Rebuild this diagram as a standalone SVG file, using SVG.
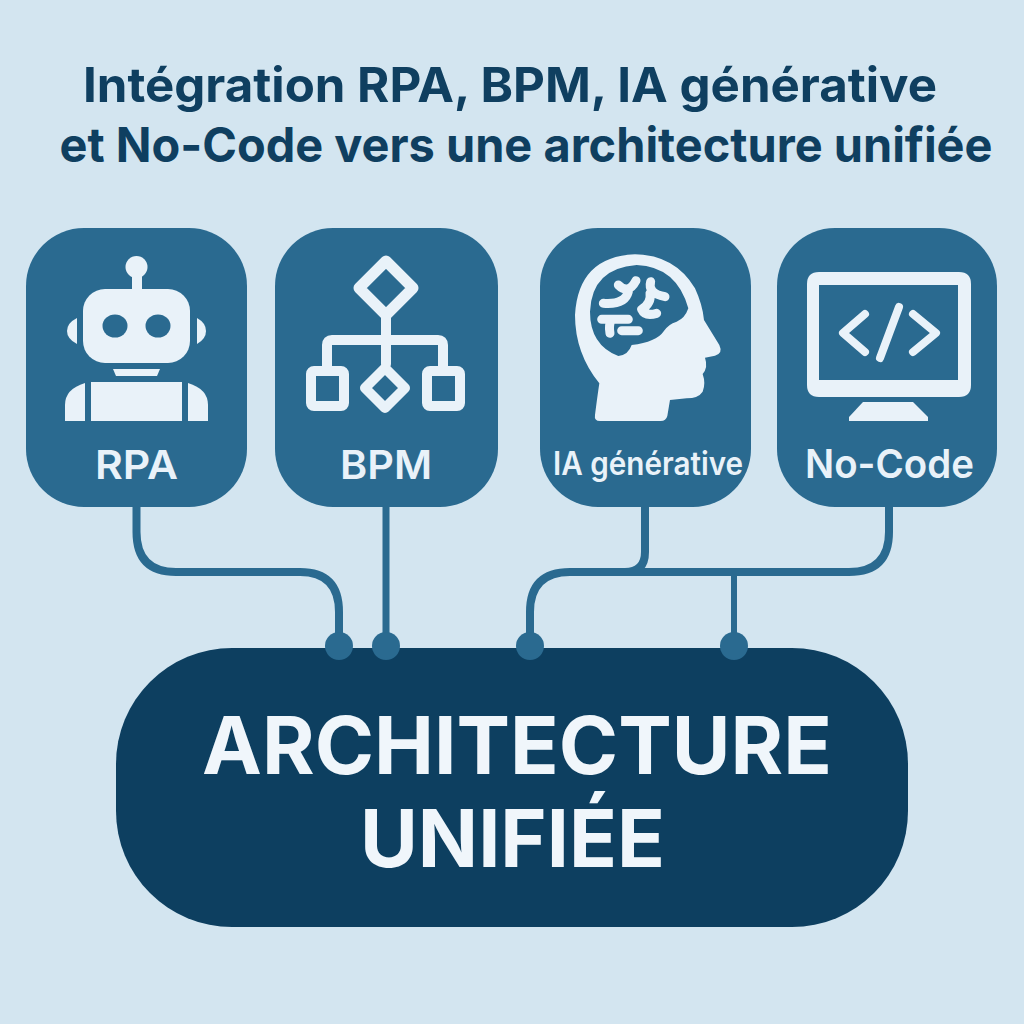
<svg xmlns="http://www.w3.org/2000/svg" width="1024" height="1024" viewBox="0 0 1024 1024">
<style>
text{font-family:Inter,"Liberation Sans",sans-serif;text-anchor:middle}
.title{font-size:48px;font-weight:700;fill:#0f3f60}
.lbl{font-size:40px;font-weight:600;fill:#e9f2f9}
.big{font-size:80px;font-weight:700;fill:#f0f6fb}
.box{fill:#2a6a90}
.ic{fill:#e9f2f9}
.is{fill:none;stroke:#e9f2f9;stroke-linejoin:round;stroke-linecap:round}
.wire{fill:none;stroke:#2a6a90;stroke-width:8}
.dot{fill:#2a6a90}
</style>
<rect width="1024" height="1024" fill="#d3e5f0"/>
<g id="title">
<text class="title" x="510" y="102" textLength="854" lengthAdjust="spacingAndGlyphs">Intégration RPA, BPM, IA générative</text>
<text class="title" x="526" y="162" textLength="933" lengthAdjust="spacingAndGlyphs">et No-Code vers une architecture unifiée</text>
</g>
<g id="connectors">
<path class="wire" d="M136.500 507V532Q136.500 572 176 572H300Q339 572 339 612V646"/>
<path class="wire" style="stroke-width:7" d="M386 507V646"/>
<path class="wire" d="M645 507V552Q645 572 625 572H570Q530 572 530 612V646"/>
<path class="wire" d="M889 507V532Q889 572 849 572H620"/>
<path class="wire" style="stroke-width:6" d="M734 572V646"/>
</g>
<g id="node-architecture">
<rect x="116" y="648" width="792" height="279" rx="116" fill="#0d3f60"/>
<text class="big" x="517" y="774" textLength="630" lengthAdjust="spacingAndGlyphs">ARCHITECTURE</text>
<text class="big" x="512.500" y="867" textLength="305" lengthAdjust="spacingAndGlyphs">UNIFIÉE</text>
</g>
<g id="ports">
<circle class="dot" cx="339" cy="646" r="14"/>
<circle class="dot" cx="386" cy="646" r="14"/>
<circle class="dot" cx="530" cy="646" r="14"/>
<circle class="dot" cx="734" cy="646" r="14"/>
</g>
<g id="node-rpa">
<rect class="box" x="26" y="228" width="221" height="279" rx="58"/>
<circle class="ic" cx="136.500" cy="267" r="11"/>
<rect class="ic" x="132" y="270" width="10" height="22"/>
<rect class="ic" x="83" y="289" width="107" height="74" rx="22"/>
<ellipse class="box" cx="115" cy="326" rx="12.500" ry="11.500"/>
<ellipse class="box" cx="158" cy="326" rx="12.500" ry="11.500"/>
<path class="ic" d="M77 318Q67 323 67 331Q67 339 77 344Z"/>
<path class="ic" d="M197 318Q206 323 206 331Q206 339 197 344Z"/>
<path class="ic" d="M113 369H160L157 376H116Z"/>
<rect class="ic" x="91" y="382" width="91" height="39"/>
<path class="ic" d="M85 383V421H65V405Q65 389 85 383Z"/>
<path class="ic" d="M188 383V421H208V405Q208 389 188 383Z"/>
<text class="lbl" x="136.500" y="479" textLength="83" lengthAdjust="spacingAndGlyphs">RPA</text>
</g>
<g id="node-bpm">
<rect class="box" x="275" y="228" width="223" height="279" rx="58"/>
<path class="is" stroke-width="11" d="M386 261L413 288L386 315L359 288Z"/>
<path class="is" stroke-width="10" d="M386 316V364M327 366V345Q327 340 332 340H438Q443 340 443 345V366"/>
<rect class="is" stroke-width="10" x="311" y="371" width="33" height="35" rx="3"/>
<rect class="is" stroke-width="10" x="427" y="371" width="33" height="35" rx="3"/>
<path class="is" stroke-width="10" d="M385 368L405 388L385 408L365 388Z"/>
<text class="lbl" x="386" y="479" textLength="92" lengthAdjust="spacingAndGlyphs">BPM</text>
</g>
<g id="node-ia">
<rect class="box" x="540" y="228" width="211" height="279" rx="58"/>
<g transform="translate(560 250) scale(.3333)">
<path class="ic" fill-rule="evenodd" d="M105 495Q112 440 118 400Q45 310 45 195Q55 20 225 13Q345 15 405 115Q428 165 432 210L478 285Q490 310 465 317L435 323Q445 352 428 372Q438 400 428 425Q415 445 380 445L330 450L322 498Q318 513 302 513H120Q102 513 105 495ZM90 185Q95 55 230 45Q350 50 385 175Q375 205 350 215Q325 222 310 245Q290 275 215 285Q205 315 175 318Q90 285 90 185Z"/>
<path class="is" stroke-width="27" d="M130 160Q195 165 205 125M175 105Q205 135 228 92M272 95Q262 130 315 140M270 130Q275 160 245 178Q255 200 290 190M125 208H205M150 250Q145 225 155 208M185 242H235"/>
</g>
<text class="lbl" style="font-size:32px" x="648" y="475" textLength="190" lengthAdjust="spacingAndGlyphs">IA générative</text>
</g>
<g id="node-nocode">
<rect class="box" x="777" y="228" width="220" height="279" rx="58"/>
<path class="ic" fill-rule="evenodd" d="M819 272H959Q971 272 971 284V385Q971 397 959 397H819Q807 397 807 385V284Q807 272 819 272ZM819 285V380H958V285Z"/>
<path class="ic" d="M863 402H913L928 417V421H849V417Z"/>
<path class="is" stroke-width="8" d="M865 314L843 333L865 352M899 307L880 358M913 314L936 333L913 352"/>
<text class="lbl" x="889.500" y="478" textLength="169" lengthAdjust="spacingAndGlyphs">No-Code</text>
</g>
</svg>
